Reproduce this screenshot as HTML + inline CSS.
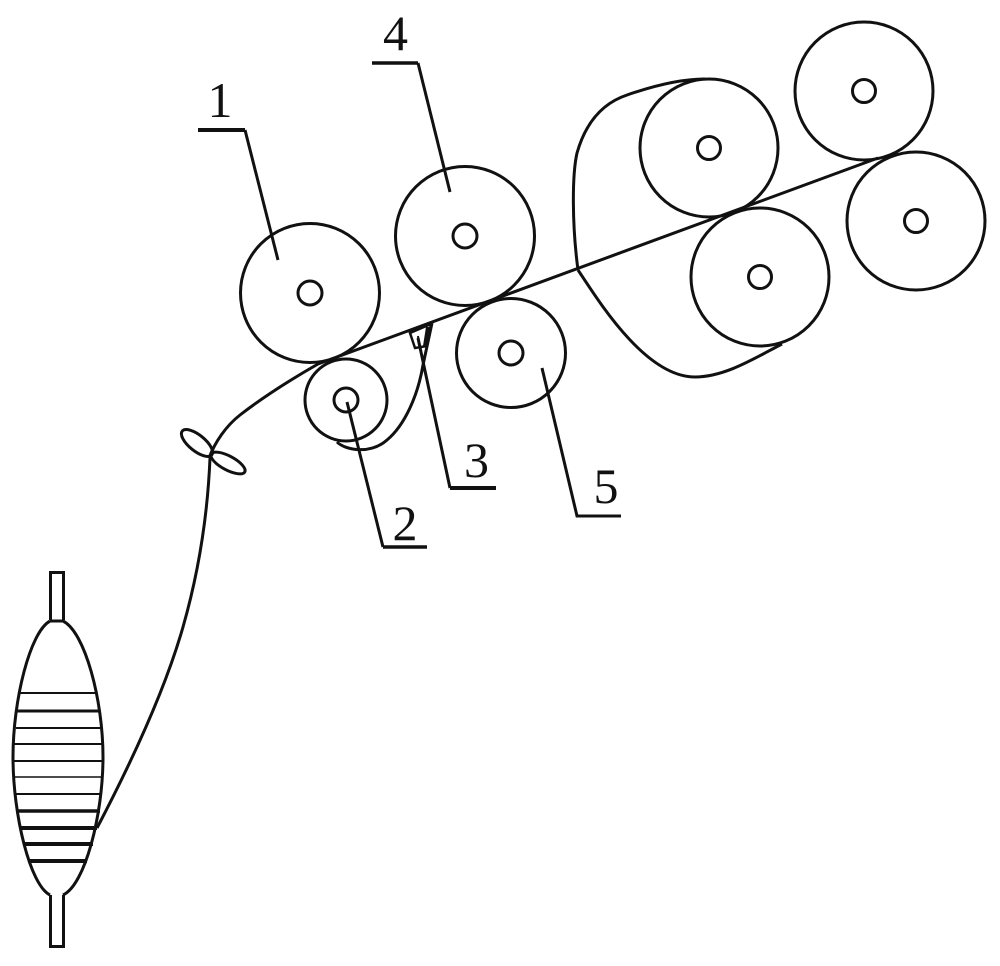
<!DOCTYPE html>
<html>
<head>
<meta charset="utf-8">
<style>
html,body{margin:0;padding:0;background:#fff;width:1000px;height:966px;overflow:hidden}
svg{display:block}
text{font-family:"Liberation Serif",serif;font-size:50px;fill:#111;text-anchor:middle}
</style>
</head>
<body>
<svg width="1000" height="966" viewBox="0 0 1000 966" xmlns="http://www.w3.org/2000/svg">
<g fill="none" stroke="#111" stroke-width="3">
  <circle cx="310" cy="293" r="69.5"/><circle cx="310" cy="293" r="12"/>
  <circle cx="465" cy="236" r="69.5"/><circle cx="465" cy="236" r="12"/>
  <circle cx="511" cy="353" r="54.5"/><circle cx="511" cy="353" r="12"/>
  <circle cx="346" cy="400" r="41"/><circle cx="346" cy="400" r="12"/>
  <circle cx="709" cy="148" r="69"/><circle cx="709" cy="148" r="11.5"/>
  <circle cx="864" cy="91" r="69"/><circle cx="864" cy="91" r="11.5"/>
  <circle cx="760" cy="277" r="69"/><circle cx="760" cy="277" r="11.5"/>
  <circle cx="916" cy="221" r="69"/><circle cx="916" cy="221" r="11.5"/>

  <path d="M97 828 C130 765 165 690 183 627 C195 585 207 530 210 458"/>
  <path d="M209 458 C215 442 226 426 240 415 C262 398 290 380 318 364 L878 158"/>
  <path d="M337 442 C345 450 370 455 387 440 C405 425 418 395 423 365 L432 323"/>
  <path d="M705 79 C680 79 650 87 627 95 C600 104 585 125 577 153 C572 175 572 225 578 270"/>
  <path d="M578 270 C598 300 645 377 695 377 C725 377 755 358 782 344"/>

  <ellipse cx="197" cy="443" rx="19" ry="8" transform="rotate(39 197 443)"/>
  <ellipse cx="228" cy="463" rx="19" ry="7" transform="rotate(28 228 463)"/>

  <path d="M410 333 L415 348 L427 346 L431 324 Z" stroke-width="2.5"/>
  <path d="M418 336 L419 345" stroke-width="2"/>
  <path d="M428 327 L425 346" stroke-width="4"/>

  <path d="M198 130 H245" stroke-width="4"/>
  <path d="M245 130 L278 260"/>
  <path d="M372 63 H418" stroke-width="3.5"/>
  <path d="M418 63 L450 192"/>
  <path d="M418 338 L450 488"/>
  <path d="M450 488 H496" stroke-width="4"/>
  <path d="M347 402 L383 547"/>
  <path d="M383 547 H427" stroke-width="3.5"/>
  <path d="M542 368 L577 516 H621"/>

  <path d="M50.5 620 V572.5 H63.5 V620"/>
  <path d="M50.5 895 V946.5 H63.5 V895"/>
  <path d="M50 621 H63 C85 632 103 700 103 757 C103 815 85 885 63 895 M50 895 C30 885 13 815 13 757 C13 700 30 632 50 621"/>

  <g stroke-width="2">
    <path d="M20 693 H96"/>
    <path d="M16 728 H101"/>
    <path d="M14 744 H102"/>
    <path d="M13 761 H103" />
    <path d="M14 777 H102" stroke-width="1.5"/>
    <path d="M16 794 H101"/>
  </g>
  <g stroke-width="3.5">
    <path d="M16 711 H99" stroke-width="3"/>
    <path d="M17 811 H100"/>
    <path d="M21 828 H97" stroke-width="4"/>
    <path d="M24 844 H93" stroke-width="4"/>
    <path d="M30 861 H87" stroke-width="4"/>
  </g>
</g>
<text x="220" y="117">1</text>
<text x="395.5" y="50">4</text>
<text x="476.5" y="477">3</text>
<text x="405" y="540">2</text>
<text x="606" y="503">5</text>
</svg>
</body>
</html>
